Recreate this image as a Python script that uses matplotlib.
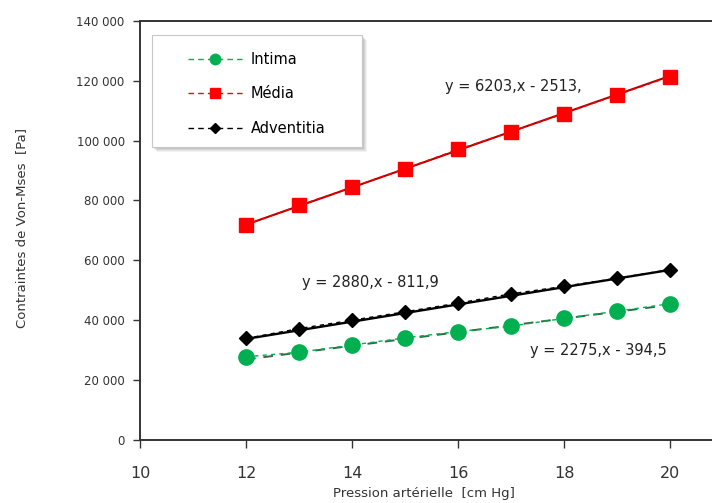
import matplotlib
matplotlib.use("Agg")
import matplotlib.pyplot as plt
from matplotlib.patches import Rectangle
from matplotlib.ticker import FuncFormatter

plt.rcParams['font.family'] = ['DejaVu Sans']

# Blood pressure (cm Hg)
pression = [12, 13, 14, 15, 16, 17, 18, 19, 20]

# Von Mises stress per layer (Pa)
intima = [27800, 29300, 31700, 34100, 36200, 38000, 40600, 43000, 45500]
media = [71800, 78300, 84400, 90600, 97000, 102900, 109000, 115200, 121300]
adventitia = [33900, 37200, 40000, 42800, 45700, 48800, 51300, 54000, 56900]

# Linear trend coefficients (slope, intercept)
trend_intima = (2275, -394.5)
trend_media = (6203, -2513)
trend_adventitia = (2880, -811.9)

eq_intima = "y = 2275,x - 394,5"
eq_media = "y = 6203,x - 2513,"
eq_adventitia = "y = 2880,x - 811,9"

xticks = [10, 12, 14, 16, 18, 20]
yticks = [0, 20000, 40000, 60000, 80000, 100000, 120000, 140000]

W, H = 712, 503
fig = plt.figure(figsize=(W / 100, H / 100), dpi=100)
ax = fig.add_axes([140 / W, 1 - 440 / H, 1 - 140 / W, (440 - 20.7) / H])

green = "#00B050"
red = "#FF0000"
txt = "#333333"


def trend(coef, xs):
    return [coef[0] * x + coef[1] for x in xs]


xs_tr = [pression[0], pression[-1]]

# measured series (dashed) with markers
ax.plot(pression, intima, ls=(0, (3, 3)), color=green, lw=1.0, marker="o", ms=11,
        mfc=green, mec=green, label="Intima", zorder=3)
ax.plot(pression, media, ls=(0, (3, 3)), color=red, lw=1.0, marker="s", ms=9.5,
        mfc=red, mec=red, label="Média", zorder=3)
ax.plot(pression, adventitia, ls=(0, (3, 3)), color="black", lw=1.0, marker="D", ms=7.5,
        mfc="black", mec="black", label="Adventitia", zorder=3)

# linear trend lines
ax.plot(xs_tr, trend(trend_intima, xs_tr), ls=(0, (5, 4)), color="#2f6b45", lw=1.4, zorder=2)
ax.plot(xs_tr, trend(trend_media, xs_tr), ls="-", color="#B00000", lw=1.5, zorder=2)
ax.plot(xs_tr, trend(trend_adventitia, xs_tr), ls="-", color="black", lw=1.7, zorder=2)

# trend equations
eq_kw = dict(transform=fig.transFigure, fontsize=10.5, color="#222222",
             va="center", ha="left")
fig.text(445 / W, 1 - 87 / H, eq_media, **eq_kw)
fig.text(302 / W, 1 - 283 / H, eq_adventitia, **eq_kw)
fig.text(530 / W, 1 - 351 / H, eq_intima, **eq_kw)

ax.set_xlim(10, 10 + 572 / 53)
ax.set_ylim(0, 140000)
ax.set_xticks(xticks)
ax.set_yticks(yticks)
ax.yaxis.set_major_formatter(FuncFormatter(lambda v, p: f"{int(v):,}".replace(",", " ")))

ax.tick_params(axis="y", direction="out", length=5, width=1, labelsize=8.5,
               colors=txt, pad=6)
ax.tick_params(axis="x", direction="out", length=6, width=1, labelsize=11.5,
               colors=txt, pad=12.5)

for side in ("left", "bottom", "top"):
    ax.spines[side].set_color(txt)
    ax.spines[side].set_linewidth(1.4)
ax.spines["right"].set_visible(False)

fig.text(22 / W, 1 - 228 / H, "Contraintes de Von-Mses  [Pa]", rotation=90,
         fontsize=9.5, color=txt, va="center", ha="center")
fig.text(424 / W, 1 - 493 / H, "Pression artérielle  [cm Hg]",
         fontsize=9.5, color=txt, va="center", ha="center")

# legend box with soft shadow
bx0, by0, bx1, by1 = 152, 35, 362, 147
for off, a in ((5, 0.10), (4, 0.12), (3, 0.15), (2, 0.18)):
    ax.add_patch(Rectangle(((bx0 + off) / W, 1 - (by1 + off) / H),
                           (bx1 - bx0) / W, (by1 - by0) / H,
                           transform=fig.transFigure, facecolor="#808080",
                           alpha=a, edgecolor="none", zorder=4, clip_on=False))
ax.add_patch(Rectangle((bx0 / W, 1 - by1 / H), (bx1 - bx0) / W, (by1 - by0) / H,
                       transform=fig.transFigure, facecolor="white",
                       edgecolor="#c8c8c8", lw=0.8, zorder=5, clip_on=False))

leg = ax.legend(loc="upper left", bbox_to_anchor=(188 / W, 1 - 52 / H),
                bbox_transform=fig.transFigure, frameon=False, fontsize=10.5,
                handlelength=3.7, labelspacing=1.33, borderpad=0,
                handletextpad=0.6, borderaxespad=0)
leg.set_zorder(6)
for h, ms in zip(leg.legend_handles, (7.5, 7, 5.5)):
    h.set_markersize(ms)
    h.set_linestyle((0, (4, 3)))

fig.savefig("out.png", dpi=100)
